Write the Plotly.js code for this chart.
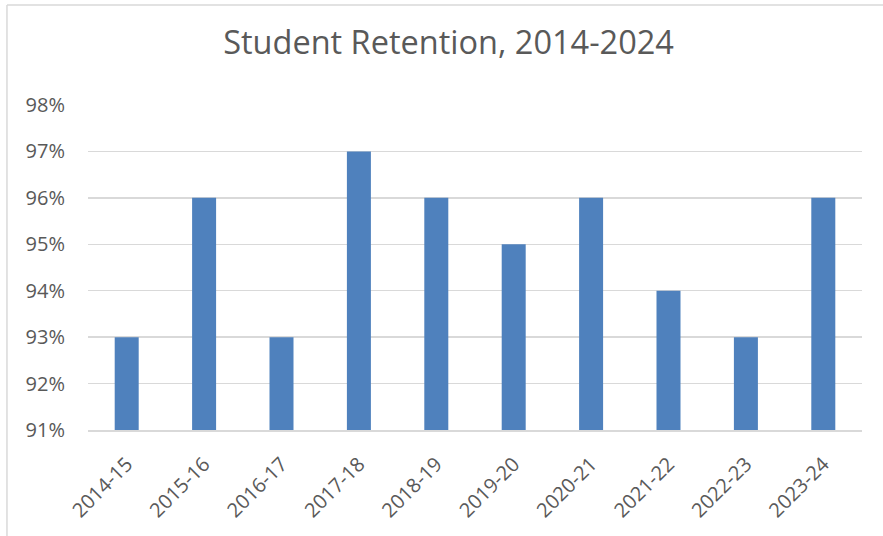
<!DOCTYPE html>
<html>
<head>
<meta charset="utf-8">
<script src="https://cdn.plot.ly/plotly-3.0.1.min.js"></script>
<style>
  html, body { margin: 0; padding: 0; background: #ffffff; }
  #chart { width: 883px; height: 536px; }
</style>
</head>
<body>
<div id="chart"></div>
<script>
const years = ["2014-15", "2015-16", "2016-17", "2017-18", "2018-19", "2019-20", "2020-21", "2021-22", "2022-23", "2023-24"];
const retention = [93, 96, 93, 97, 96, 95, 96, 94, 93, 96];
const yTickVals = [91, 92, 93, 94, 95, 96, 97, 98];
const yTickText = ["91%", "92%", "93%", "94%", "95%", "96%", "97%", "98%"];

const FONT = "Open Sans, Lato, sans-serif";
const TEXT = "#595959";

const trace = {
  type: "bar",
  x: years,
  y: retention,
  marker: { color: "#4F81BD", line: { width: 0 } },
  hoverinfo: "x+y"
};

const layout = {
  width: 883,
  height: 536,
  margin: { l: 88, r: 21, t: 105, b: 106 },
  paper_bgcolor: "#ffffff",
  plot_bgcolor: "#ffffff",
  showlegend: false,
  bargap: 0.69,
  title: {
    text: "Student Retention, 2014-2024",
    font: { family: FONT, size: 32.5, color: TEXT },
    x: 0.508, xanchor: "center",
    y: 0.921, yanchor: "middle"
  },
  xaxis: {
    type: "category",
    tickangle: -45,
    tickfont: { family: FONT, size: 20, color: TEXT },
    showgrid: false,
    showline: true,
    linecolor: "#D9D9D9",
    linewidth: 1.5,
    ticks: "",
    ticklabelstandoff: 13,
    fixedrange: true
  },
  yaxis: {
    range: [91, 98],
    tickvals: yTickVals,
    ticktext: yTickText,
    tickfont: { family: FONT, size: 20, color: TEXT },
    showgrid: true,
    gridcolor: "#D9D9D9",
    gridwidth: 1.5,
    zeroline: false,
    showline: false,
    ticks: "",
    ticklabelstandoff: 22,
    fixedrange: true
  },
  shapes: [
    { type: "line", xref: "paper", yref: "paper", x0: -0.1047, x1: -0.1047, y0: -0.5, y1: 1.3077,
      line: { color: "#D9D9D9", width: 1.5 } },
    { type: "line", xref: "paper", yref: "paper", x0: -0.1047, x1: 1.2, y0: 1.3077, y1: 1.3077,
      line: { color: "#D9D9D9", width: 1.5 } }
  ]
};

Plotly.newPlot("chart", [trace], layout, { displayModeBar: false, staticPlot: true });
</script>
</body>
</html>
